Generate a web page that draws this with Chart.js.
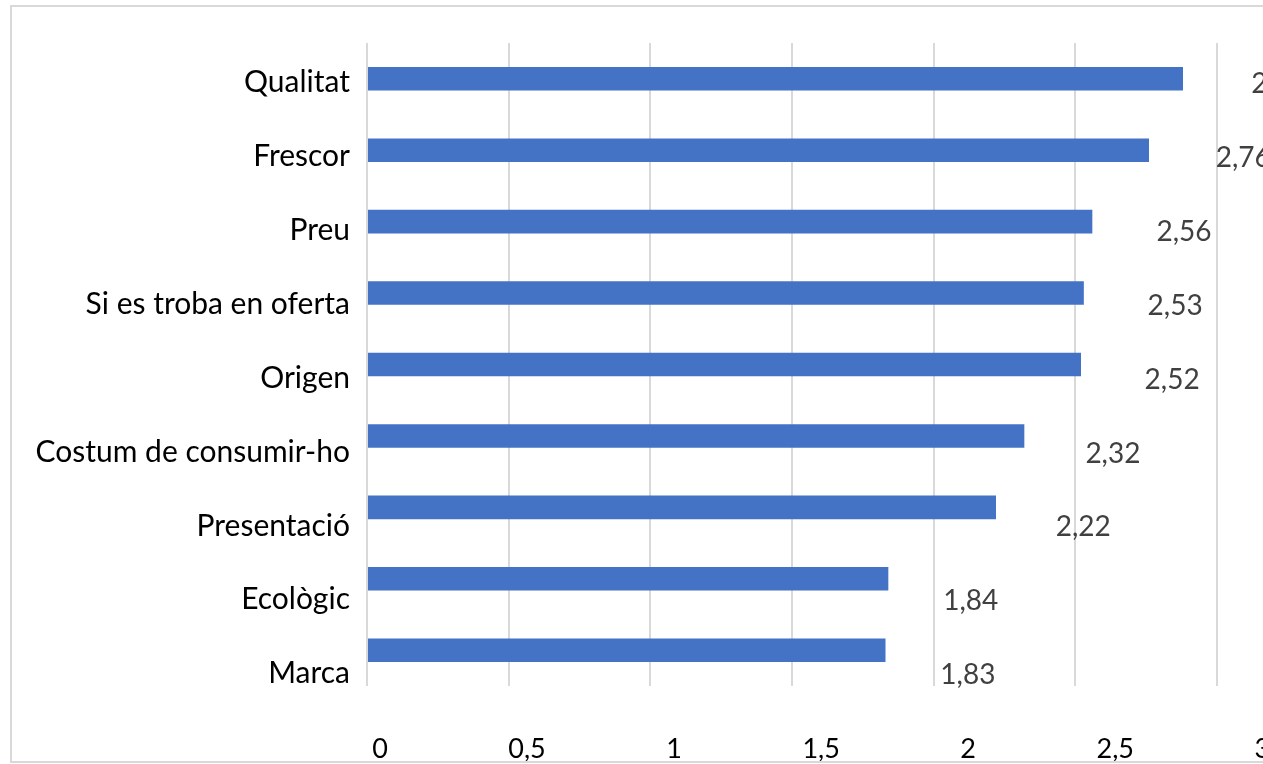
<!DOCTYPE html>
<html>
<head>
<meta charset="utf-8">
<script src="https://cdn.jsdelivr.net/npm/chart.js@4.4.1/dist/chart.umd.min.js"></script>
<style>
  html, body { margin: 0; padding: 0; background: #fff; overflow: hidden; }
  #frame {
    position: absolute; left: 10px; top: 5px;
    width: 1300px; height: 754px;
    border: 2px solid #d9d9d9;
    overflow: hidden;
  }
  #chart { display: block; }
</style>
</head>
<body>
<div id="frame"><canvas id="chart" width="1300" height="800"></canvas></div>
<script>
const categories = ['Qualitat', 'Frescor', 'Preu', 'Si es troba en oferta', 'Origen',
  'Costum de consumir-ho', 'Presentació', 'Ecològic', 'Marca'];
const values = [2.88, 2.76, 2.56, 2.53, 2.52, 2.32, 2.22, 1.84, 1.83];
const xTicks = [0, 0.5, 1, 1.5, 2, 2.5, 3];

const fmt = v => String(v).replace('.', ',');

// Excel drew the texts slightly stretched compared to the bars
const textPlugin = {
  id: 'textPlugin',
  afterDatasetsDraw(chart) {
    const { ctx, chartArea, scales } = chart;
    const left = chartArea.left;
    const firstY = scales.y.getPixelForValue(0);
    ctx.save();
    ctx.textBaseline = 'middle';

    chart.getDatasetMeta(0).data.forEach((bar, i) => {
      const y = bar.y + 4 + (bar.y - firstY) * 0.0337;
      // category label
      ctx.textAlign = 'right';
      ctx.font = '30px Lato';
      ctx.fillStyle = '#000';
      ctx.fillText(categories[i], left - 17, y);
      // value label
      ctx.textAlign = 'center';
      ctx.font = '28px Lato';
      ctx.fillStyle = '#404040';
      const x = left + 59 + (bar.x - left) * 1.045;
      ctx.fillText(fmt(values[i]), x, y + 1.5);
    });

    ctx.textAlign = 'center';
    ctx.font = '27px Lato';
    ctx.fillStyle = '#000';
    xTicks.forEach(t => {
      const px = scales.x.getPixelForValue(t);
      const x = left + 13 + (px - left) * 1.038;
      ctx.fillText(fmt(t), x, chartArea.bottom + 63);
    });
    ctx.restore();
  }
};

new Chart(document.getElementById('chart').getContext('2d'), {
  type: 'bar',
  data: {
    labels: categories,
    datasets: [{
      data: values,
      backgroundColor: '#4472c4',
      categoryPercentage: 1,
      barPercentage: 0.33
    }]
  },
  options: {
    indexAxis: 'y',
    responsive: false,
    animation: false,
    layout: { padding: { left: 0, top: 36, right: 95, bottom: 121 } },
    plugins: {
      legend: { display: false },
      tooltip: { enabled: false }
    },
    scales: {
      x: {
        min: 0,
        max: 3,
        ticks: { display: false, stepSize: 0.5 },
        grid: { color: '#d9d9d9', lineWidth: 2, drawTicks: false },
        border: { display: false },
        afterFit: s => { s.height = 0; }
      },
      y: {
        ticks: { display: false },
        grid: { display: false, drawTicks: false },
        border: { display: false },
        afterFit: s => { s.width = 355; }
      }
    }
  },
  plugins: [textPlugin]
});
</script>
</body>
</html>
